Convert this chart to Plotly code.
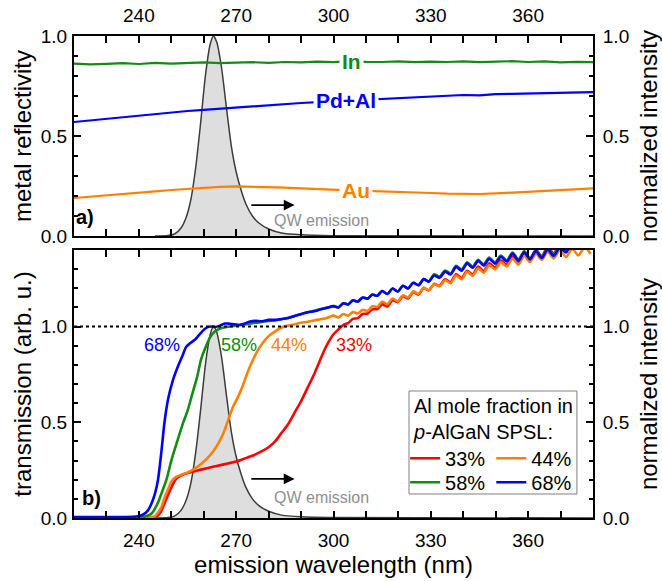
import plotly.graph_objects as go

# ---------------- data ----------------
# QW emission spectrum (normalized intensity)
QW_WL = [245, 249, 251, 253, 254.5, 256, 257.5, 259, 260.5, 262, 263, 264, 265.5, 267,
         268.5, 270, 271.5, 273, 275, 277, 280, 284, 290, 300, 380]
QW_INT = [0.0, 0.003, 0.01, 0.04, 0.09, 0.18, 0.34, 0.56, 0.8, 0.96, 1.0, 0.97, 0.84, 0.64,
          0.45, 0.32, 0.23, 0.16, 0.1, 0.065, 0.035, 0.015, 0.006, 0.002, 0.0]

# metal reflectivity (top panel)
REFL_WL = [220, 225, 230, 235, 240, 245, 250, 255, 260, 265, 270, 275, 280, 285, 290, 295,
           300, 305, 310, 315, 320, 325, 330, 335, 340, 345, 350, 355, 360, 365, 370, 375, 380]
REFL_IN = [0.862, 0.858, 0.861, 0.864, 0.860, 0.866, 0.862, 0.865, 0.868, 0.864, 0.867, 0.869,
           0.866, 0.870, 0.868, 0.872, 0.869, 0.874, 0.871, 0.870, 0.873, 0.869, 0.872, 0.870,
           0.873, 0.869, 0.872, 0.874, 0.870, 0.873, 0.868, 0.871, 0.869]
REFL_PDAL = [0.570, 0.578, 0.587, 0.596, 0.604, 0.611, 0.619, 0.625, 0.631, 0.637, 0.643, 0.649,
             0.655, 0.660, 0.665, 0.669, 0.673, 0.677, 0.682, 0.686, 0.690, 0.694, 0.698, 0.700,
             0.705, 0.703, 0.709, 0.711, 0.713, 0.712, 0.716, 0.717, 0.719]
REFL_AU = [0.190, 0.196, 0.203, 0.210, 0.217, 0.223, 0.230, 0.236, 0.242, 0.246, 0.248, 0.247,
           0.245, 0.242, 0.238, 0.234, 0.230, 0.228, 0.226, 0.224, 0.222, 0.219, 0.215, 0.212,
           0.210, 0.210, 0.213, 0.217, 0.222, 0.226, 0.230, 0.234, 0.238]

# transmission (bottom panel): absorption-edge part, per sample
WL_33 = [220, 242, 245, 246, 247, 248, 249, 250, 251.5, 253, 255, 258, 261, 264, 267, 270,
         272.5, 275, 277.5, 280, 282, 284, 286, 288, 290, 292, 294, 295.5, 297, 298.5]
T_33 = [0.0, 0.0, 0.003, 0.015, 0.04, 0.08, 0.12, 0.16, 0.205, 0.222, 0.235, 0.248, 0.26,
        0.272, 0.283, 0.295, 0.31, 0.325, 0.345, 0.37, 0.40, 0.445, 0.49, 0.55, 0.61, 0.68,
        0.75, 0.81, 0.87, 0.92]
WL_44 = [220, 240, 243, 245, 246, 247, 248, 249, 250, 251.5, 253, 255, 257, 259, 261, 263,
         264.5, 266, 267.5, 269, 270.5, 272, 273.5, 275, 276.5, 278, 280, 282, 284, 286, 288,
         290, 292, 294, 296, 298]
T_44 = [0.0, 0.0, 0.003, 0.01, 0.03, 0.06, 0.11, 0.15, 0.19, 0.215, 0.225, 0.238, 0.255, 0.28,
        0.31, 0.35, 0.39, 0.44, 0.51, 0.58, 0.63, 0.69, 0.76, 0.82, 0.87, 0.91, 0.95, 0.975,
        0.995, 1.005, 1.012, 1.02, 1.025, 1.032, 1.038, 1.045]
WL_58 = [220, 235, 240, 242.5, 244, 245, 246, 247, 248.5, 250, 252, 253.5, 255, 256.5, 258,
         259.2, 260.5, 262, 263.5, 265, 267, 269, 271, 273, 275, 277, 280, 282, 284, 286, 288,
         290, 292, 294, 296, 298]
T_58 = [0.0, 0.002, 0.004, 0.01, 0.025, 0.05, 0.085, 0.13, 0.20, 0.30, 0.41, 0.49, 0.56, 0.65,
        0.74, 0.83, 0.89, 0.945, 0.975, 0.99, 0.998, 1.003, 1.008, 1.012, 1.018, 1.022, 1.03,
        1.032, 1.038, 1.045, 1.055, 1.066, 1.075, 1.082, 1.09, 1.098]
WL_68 = [220, 230, 238, 240, 241.5, 242.8, 244, 245, 245.9, 246.9, 247.9, 249, 250.5, 252,
         253.5, 254.6, 256, 257.5, 259, 260.5, 262, 263.5, 265, 266.5, 268, 269.5, 271, 272.5,
         274, 276, 278, 280, 282, 284, 286, 288, 290, 292, 294, 296, 298]
T_68 = [0.005, 0.005, 0.006, 0.01, 0.02, 0.04, 0.08, 0.13, 0.2, 0.34, 0.50, 0.62, 0.72, 0.79,
        0.85, 0.895, 0.915, 0.935, 0.965, 0.99, 1.0, 0.998, 1.005, 1.016, 1.015, 1.012, 1.008,
        1.015, 1.025, 1.03, 1.028, 1.035, 1.035, 1.04, 1.045, 1.055, 1.065, 1.075, 1.08, 1.09,
        1.098]

# transmission above 300 nm (thin-film fringes), read at fringe maxima/minima
WL_FRINGE = [300, 301.5, 303, 304.5, 306, 307.5, 309, 310.5, 312, 313.5, 315, 316.6, 318.2,
             319.8, 321.4, 323, 324.6, 326.2, 327.8, 329.4, 331, 332.7, 334.4, 336.1, 337.8,
             339.5, 341.2, 342.9, 344.6, 346.3, 348, 349.8, 351.6, 353.4, 355.2, 357, 358.8,
             360.6, 362.4, 364.2, 366, 367.9, 369.8, 371.7, 373.6, 375.5, 377.4, 379.3]
TF_33 = [0.960, 0.985, 1.008, 1.018, 1.040, 1.044, 1.066, 1.068, 1.090, 1.092, 1.116, 1.105,
         1.138, 1.128, 1.159, 1.147, 1.179, 1.167, 1.201, 1.189, 1.223, 1.213, 1.247, 1.232,
         1.273, 1.253, 1.292, 1.272, 1.313, 1.290, 1.330, 1.309, 1.346, 1.323, 1.365, 1.335,
         1.385, 1.352, 1.400, 1.367, 1.414, 1.382, 1.430, 1.398, 1.446, 1.414, 1.460, 1.430]
TF_44 = [1.057, 1.048, 1.066, 1.057, 1.076, 1.068, 1.088, 1.082, 1.106, 1.103, 1.131, 1.117,
         1.147, 1.133, 1.164, 1.152, 1.184, 1.171, 1.203, 1.190, 1.222, 1.210, 1.242, 1.227,
         1.267, 1.247, 1.286, 1.265, 1.303, 1.282, 1.320, 1.299, 1.336, 1.314, 1.356, 1.323,
         1.370, 1.337, 1.382, 1.348, 1.392, 1.356, 1.400, 1.363, 1.407, 1.371, 1.415, 1.379]
TF_58 = [1.107, 1.100, 1.122, 1.116, 1.137, 1.131, 1.152, 1.146, 1.167, 1.161, 1.186, 1.170,
         1.199, 1.183, 1.213, 1.199, 1.229, 1.216, 1.248, 1.235, 1.273, 1.261, 1.293, 1.278,
         1.318, 1.298, 1.336, 1.313, 1.349, 1.325, 1.360, 1.335, 1.371, 1.346, 1.387, 1.350,
         1.394, 1.357, 1.401, 1.364, 1.409, 1.375, 1.420, 1.393, 1.446, 1.419, 1.471, 1.442]
TF_68 = [1.107, 1.100, 1.122, 1.116, 1.137, 1.131, 1.152, 1.146, 1.167, 1.161, 1.186, 1.170,
         1.199, 1.183, 1.213, 1.199, 1.229, 1.216, 1.248, 1.235, 1.267, 1.255, 1.287, 1.272,
         1.312, 1.292, 1.330, 1.307, 1.343, 1.319, 1.354, 1.329, 1.365, 1.340, 1.381, 1.344,
         1.388, 1.351, 1.395, 1.358, 1.403, 1.369, 1.414, 1.387, 1.440, 1.413, 1.465, 1.436]

X_TICKS = [240, 270, 300, 330, 360]

# ---------------- styling ----------------
FONT = "Liberation Sans, Arial, Helvetica, sans-serif"
RED, ORANGE, GREEN, BLUE = "#ff0000", "#ff8000", "#158a15", "#0000ff"
GRAY_TXT = "#8f8f8f"

fig = go.Figure()

# QW emission (drawn under the data lines; same scale as right axes)
for xa, ya in [("x", "y"), ("x2", "y3")]:
    fig.add_trace(go.Scatter(x=QW_WL, y=QW_INT, xaxis=xa, yaxis=ya, mode="lines",
                             fill="tozeroy", fillcolor="#dedede",
                             line=dict(color="#3c3c3c", width=1.5, shape="spline", smoothing=0.6),
                             showlegend=False, hoverinfo="skip"))

# dummy traces to activate the right-hand axes
for xa, ya in [("x", "y2"), ("x2", "y4")]:
    fig.add_trace(go.Scatter(x=[None], y=[None], xaxis=xa, yaxis=ya, mode="lines",
                             showlegend=False, hoverinfo="skip"))

# reflectivity curves
for yv, col in [(REFL_IN, GREEN), (REFL_PDAL, BLUE), (REFL_AU, ORANGE)]:
    fig.add_trace(go.Scatter(x=REFL_WL, y=yv, xaxis="x2", yaxis="y3", mode="lines",
                             line=dict(color=col, width=2.2), showlegend=False))

# transmission curves (one legend per entry, arranged as a 2x2 grid)
for name, wl, t, tf, col, lg in [("33%", WL_33, T_33, TF_33, RED, "legend"),
                                 ("44%", WL_44, T_44, TF_44, ORANGE, "legend2"),
                                 ("58%", WL_58, T_58, TF_58, GREEN, "legend3"),
                                 ("68%", WL_68, T_68, TF_68, BLUE, "legend4")]:
    fig.add_trace(go.Scatter(x=wl + WL_FRINGE, y=t + tf, xaxis="x", yaxis="y", mode="lines",
                             name=name, legend=lg,
                             line=dict(color=col, width=2.6, shape="spline", smoothing=0.7)))

axis_common = dict(showline=True, linecolor="black", linewidth=2, ticks="inside", ticklen=7,
                   tickwidth=2, tickcolor="black", showgrid=False, zeroline=False,
                   automargin=False,
                   tickfont=dict(size=19, family=FONT, color="black"))

def minor(dt):
    return dict(ticks="inside", ticklen=4, tickwidth=1.5, tickcolor="black", dtick=dt,
                showgrid=False)

legend_common = dict(xanchor="left", yanchor="top", orientation="v",
                     bgcolor="rgba(0,0,0,0)", borderwidth=0, itemwidth=30,
                     font=dict(size=20, family=FONT, color="black"), tracegroupgap=0)

fig.update_layout(
    width=662, height=581,
    margin=dict(l=74, r=69, t=36, b=63),
    paper_bgcolor="white", plot_bgcolor="white",
    font=dict(family=FONT, size=19, color="black"),
    xaxis=dict(axis_common, domain=[0, 1], anchor="y", range=[220, 380], tickvals=X_TICKS,
               mirror="allticks", minor=minor(10), ticklabelstandoff=4,
               title=dict(text="emission wavelength (nm)", font=dict(size=24), standoff=6)),
    xaxis2=dict(axis_common, domain=[0, 1], anchor="y3", side="top", range=[220, 380],
                tickvals=X_TICKS, mirror="allticks", minor=minor(10), ticklabelstandoff=4),
    yaxis=dict(axis_common, domain=[0, 0.556], anchor="x", range=[0, 1.4], dtick=0.5,
               tick0=0, tickformat=".1f", minor=minor(0.1), ticklabelstandoff=1,
               title=dict(text="transmission (arb. u.)", font=dict(size=24), standoff=2)),
    yaxis2=dict(axis_common, overlaying="y", side="right", anchor="x", range=[0, 1.4],
                dtick=0.5, tick0=0, tickformat=".1f", minor=minor(0.1), ticklabelstandoff=4,
                title=dict(text="normalized intensity", font=dict(size=24), standoff=16)),
    yaxis3=dict(axis_common, domain=[0.585, 1], anchor="x2", range=[0, 1.0], dtick=0.5,
                tick0=0, tickformat=".1f", minor=minor(0.1), ticklabelstandoff=1,
                title=dict(text="metal reflectivity", font=dict(size=24), standoff=2)),
    yaxis4=dict(axis_common, overlaying="y3", side="right", anchor="x2", range=[0, 1.0],
                dtick=0.5, tick0=0, tickformat=".1f", minor=minor(0.1), ticklabelstandoff=4,
                title=dict(text="normalized intensity", font=dict(size=24), standoff=16)),
    legend=dict(legend_common, x=0.638, y=0.1645),
    legend2=dict(legend_common, x=0.804, y=0.1645),
    legend3=dict(legend_common, x=0.638, y=0.1147),
    legend4=dict(legend_common, x=0.804, y=0.1147),
    shapes=[dict(type="line", xref="x", yref="y", x0=220, x1=380, y0=1.0, y1=1.0,
                 line=dict(color="black", width=2, dash="dot")),
            dict(type="rect", xref="paper", yref="paper", x0=0.6455, x1=0.969,
                 y0=0.0498, y1=0.2635, fillcolor="white", layer="above",
                 line=dict(color="#808080", width=1))],
)

ann = []
# legend title
ann.append(dict(text="Al mole fraction in<br><i>p</i>-AlGaN SPSL:", x=0.6495, y=0.206,
                xref="paper", yref="paper", xanchor="left", yanchor="middle", align="left",
                showarrow=False, font=dict(size=20, family=FONT, color="black")))
# metal labels (top panel)
for txt, x, y, col in [("In", 305.4, 0.871, GREEN), ("Pd+Al", 303.8, 0.676, BLUE),
                       ("Au", 307.0, 0.228, ORANGE)]:
    ann.append(dict(text=f"<b>{txt}</b>", x=x, y=y, xref="x2", yref="y3", showarrow=False,
                    font=dict(size=21, color=col, family=FONT), bgcolor="white", borderpad=2))
# panel letters
ann.append(dict(text="<b>a)</b>", x=223.4, y=0.095, xref="x2", yref="y3", showarrow=False,
                font=dict(size=20, family=FONT)))
ann.append(dict(text="<b>b)</b>", x=225.3, y=0.105, xref="x", yref="y", showarrow=False,
                font=dict(size=20, family=FONT)))
# QW emission arrows and text
for xa, ya, yarr, ytxt in [("x2", "y3", 0.155, 0.08), ("x", "y", 0.204, 0.108)]:
    ann.append(dict(text="", x=288.0, y=yarr, ax=274.2, ay=yarr, xref=xa, yref=ya,
                    axref=xa, ayref=ya, showarrow=True, arrowhead=2, arrowsize=1.2,
                    arrowwidth=1.8, arrowcolor="black"))
    ann.append(dict(text="QW emission", x=296.4, y=ytxt, xref=xa, yref=ya, showarrow=False,
                    font=dict(size=16, color=GRAY_TXT, family=FONT)))
# percentage labels
for txt, x, col in [("68%", 247.2, BLUE), ("58%", 271.0, GREEN), ("44%", 286.3, ORANGE),
                    ("33%", 306.3, RED)]:
    ann.append(dict(text=txt, x=x, y=0.906, xref="x", yref="y", showarrow=False,
                    font=dict(size=18, color=col, family=FONT)))
fig.update_layout(annotations=ann)

fig.write_html("out.html", config={"displayModeBar": False},
               post_script="document.body.style.margin='0px';")
